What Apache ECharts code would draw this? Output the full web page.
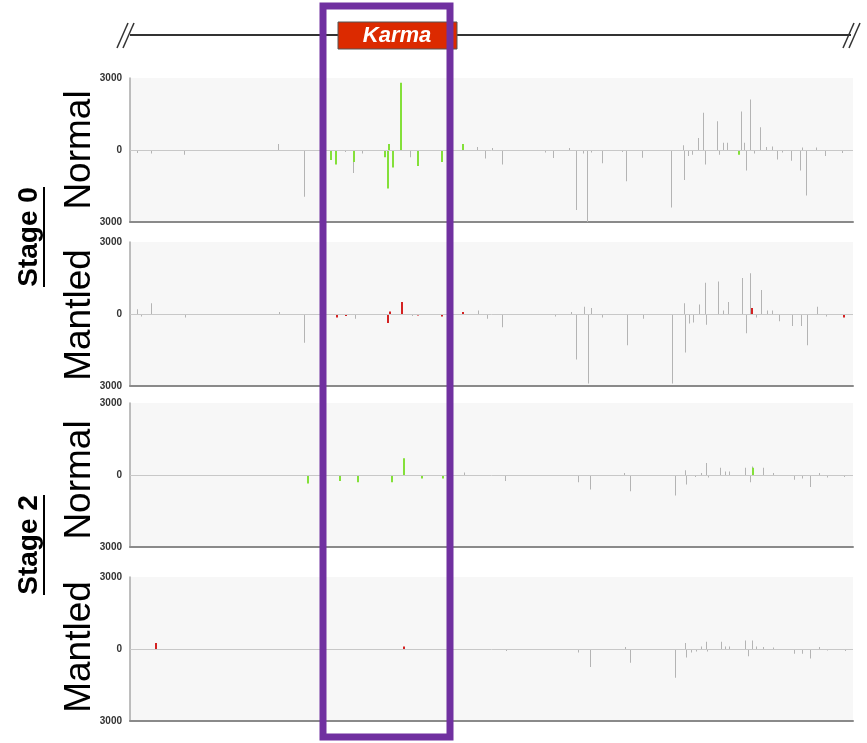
<!DOCTYPE html>
<html><head><meta charset="utf-8">
<script src="https://cdn.jsdelivr.net/npm/echarts@6/dist/echarts.min.js"></script>
<style>html,body{margin:0;padding:0;background:#fff}#c{width:867px;height:743px}</style>
</head><body><div id="c"></div>
<script>
// ---- labels ----
const panelNames = ['Normal', 'Mantled', 'Normal', 'Mantled'];
const stageNames = ['Stage 0', 'Stage 2'];
const geneName = 'Karma';
const yMin = -3000, yMax = 3000, yInterval = 3000;
const xMin = 0, xMax = 723;

// ---- data: [position, signal] ----
const s0NormalGrey = [[8,-120],[22,-150],[55,-200],[149,250],[175,-1950],[216,-80],[224,-960],[233,-150],[281,-300],
  [348,120],[356,-350],[363,80],[373,-600],[416,-100],[424,-330],[440,80],[447,-2500],[454,-150],[458,-3000],[462,-100],
  [473,-550],[493,-80],[497,-1300],[513,-320],[542,-2400],[554,200],[555,-1250],[559,-250],[563,-200],[569,500],
  [574,1550],[576,-600],[588,1200],[590,-200],[594,300],[598,300],[612,1600],[615,300],[617,-850],[621,2100],[625,-150],
  [631,950],[637,120],[643,150],[648,-400],[653,-100],[662,-450],[671,-850],[673,100],[677,-1900],[687,100],[696,-250],[713,-120]];
const s0NormalHit = [[201,-420],[206,-600],[224,-500],[255,-300],[258,-1600],[259,250],[263,-730],[271,2800],[288,-670],
  [312,-500],[333,250],[609,-200]];

const s0MantledGrey = [[8,200],[12,-100],[22,450],[56,-150],[150,80],[175,-1200],[226,-200],[283,-80],[349,150],[358,-200],
  [373,-550],[426,-100],[442,80],[447,-1900],[455,300],[459,-2900],[462,250],[473,-150],[498,-1300],[514,-200],[543,-2900],
  [555,450],[556,-1600],[560,-400],[564,-350],[570,400],[576,1300],[577,-450],[589,1350],[594,150],[599,500],[613,1500],
  [617,-800],[621,1700],[627,-150],[632,1000],[638,150],[643,150],[650,-300],[663,-500],[672,-500],[678,-1300],[688,300],[697,-100]];
const s0MantledHit = [[207,-150],[216,-80],[258,-370],[260,100],[272,500],[288,-60],[312,-100],[333,80],[622,250],[714,-150]];

const s2NormalGrey = [[335,100],[376,-250],[449,-300],[461,-600],[495,80],[501,-680],[546,-850],[556,200],[557,-400],[566,-80],
  [572,80],[577,500],[579,-100],[591,300],[596,150],[600,150],[616,300],[621,-300],[623,350],[634,300],[644,80],[665,-200],
  [673,-150],[681,-500],[690,80],[698,-100],[715,-80]];
const s2NormalHit = [[178,-350],[210,-250],[228,-300],[262,-300],[274,700],[292,-150],[313,-150],[623,300]];

const s2MantledGrey = [[377,-80],[449,-150],[461,-750],[496,80],[501,-570],[546,-1200],[556,250],[557,-350],[562,-150],[567,-100],
  [572,100],[577,300],[578,-100],[592,300],[596,100],[600,100],[616,350],[619,-300],[623,350],[627,100],[634,80],[644,60],
  [665,-200],[673,-200],[681,-400],[690,80],[698,-60],[716,-80]];
const s2MantledHit = [[26,250],[274,100]];

const panels = [
  {grey: s0NormalGrey, hit: s0NormalHit, hitColor: '#84e03a', top: 78},
  {grey: s0MantledGrey, hit: s0MantledHit, hitColor: '#d42222', top: 242},
  {grey: s2NormalGrey, hit: s2NormalHit, hitColor: '#84e03a', top: 403},
  {grey: s2MantledGrey, hit: s2MantledHit, hitColor: '#d42222', top: 577}
];

const grids = [], xAxes = [], yAxes = [], series = [];
panels.forEach((p, i) => {
  grids.push({left: 130, width: 723, top: p.top, height: 144, show: true, backgroundColor: '#f7f7f7', borderWidth: 0});
  xAxes.push({type: 'value', gridIndex: i, min: xMin, max: xMax, position: 'bottom',
    axisLine: {show: true, onZero: false, lineStyle: {color: '#8a8a8a', width: 2}},
    axisTick: {show: false}, axisLabel: {show: false}, splitLine: {show: false}});
  yAxes.push({type: 'value', gridIndex: i, min: yMin, max: yMax, interval: yInterval,
    axisLine: {show: true, lineStyle: {color: '#a8a8a8', width: 1.5}},
    axisTick: {show: false}, splitLine: {show: false},
    axisLabel: {fontSize: 10, fontWeight: 'bold', color: '#333', fontFamily: 'Liberation Sans', margin: 8,
      formatter: v => String(Math.abs(v))}});
  series.push({type: 'bar', xAxisIndex: i, yAxisIndex: i, data: p.grey, barWidth: 1, barGap: '-100%',
    itemStyle: {color: '#b4b4b4'}, silent: true,
    markLine: {silent: true, symbol: 'none', label: {show: false}, animation: false,
      lineStyle: {color: '#c8c8c8', width: 1, type: 'solid'}, data: [{yAxis: 0}]}});
  series.push({type: 'bar', xAxisIndex: i, yAxisIndex: i, data: p.hit, barWidth: 2, barGap: '-100%',
    itemStyle: {color: p.hitColor}, silent: true, z: 3});
});

const font = 'Liberation Sans';
const graphic = [
  // gene line
  {type: 'line', shape: {x1: 130, y1: 35, x2: 851, y2: 35}, style: {stroke: '#333', lineWidth: 2}},
  {type: 'line', shape: {x1: 117, y1: 48, x2: 128, y2: 23}, style: {stroke: '#333', lineWidth: 1.5}},
  {type: 'line', shape: {x1: 123, y1: 48, x2: 134, y2: 23}, style: {stroke: '#333', lineWidth: 1.5}},
  {type: 'line', shape: {x1: 843, y1: 48, x2: 854, y2: 23}, style: {stroke: '#333', lineWidth: 1.5}},
  {type: 'line', shape: {x1: 849, y1: 48, x2: 860, y2: 23}, style: {stroke: '#333', lineWidth: 1.5}},
  {type: 'rect', shape: {x: 338, y: 22, width: 119, height: 27}, style: {fill: '#dc2a00', stroke: '#555', lineWidth: 1}},
  {type: 'text', x: 397, y: 36, style: {text: geneName, fill: '#fff', font: 'italic bold 22px ' + font, align: 'center', verticalAlign: 'middle'}},
  // highlight box
  {type: 'rect', z: 100, shape: {x: 323, y: 6, width: 127, height: 731}, style: {fill: 'none', stroke: '#7030a0', lineWidth: 7}}
];
const panelCenters = [150, 315, 480, 647];
panelNames.forEach((n, i) => {
  graphic.push({type: 'text', x: 80, y: panelCenters[i], rotation: Math.PI / 2,
    style: {text: n, fill: '#000', font: '37px ' + font, align: 'center', verticalAlign: 'middle'}});
});
const stageCenters = [237, 545];
stageNames.forEach((n, i) => {
  graphic.push({type: 'group', x: 29, y: stageCenters[i], rotation: Math.PI / 2, children: [
    {type: 'text', x: 0, y: 0, style: {text: n, fill: '#000', font: 'bold 28px ' + font, align: 'center', verticalAlign: 'middle'}},
    {type: 'line', shape: {x1: -50, y1: 15, x2: 50, y2: 15}, style: {stroke: '#000', lineWidth: 2}}
  ]});
});

const chart = echarts.init(document.getElementById('c'), null, {renderer: 'canvas'});
chart.setOption({animation: false, grid: grids, xAxis: xAxes, yAxis: yAxes, series: series, graphic: graphic});
</script></body></html>
